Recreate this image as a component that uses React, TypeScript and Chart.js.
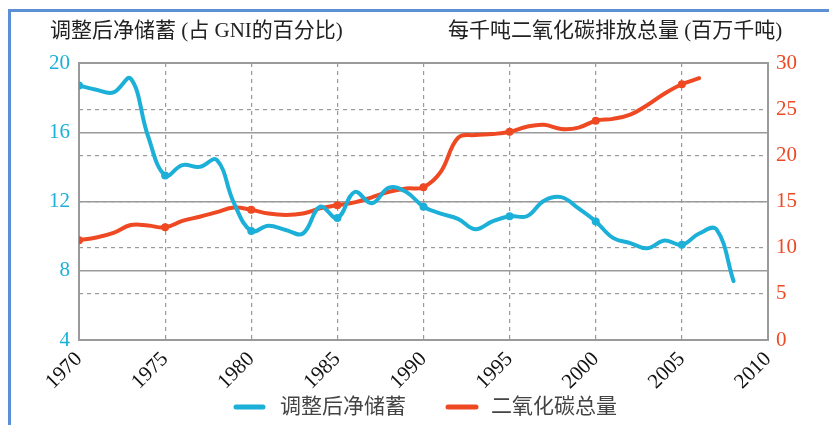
import { useEffect, useRef } from 'react';
import { Chart, registerables } from 'chart.js';

Chart.register(...registerables);

const savingsYears = [1970, 1971, 1972, 1973, 1974, 1975, 1976, 1977, 1978, 1979, 1980, 1981, 1982, 1983, 1984, 1985, 1986, 1987, 1988, 1989, 1990, 1991, 1992, 1993, 1994, 1995, 1996, 1997, 1998, 1999, 2000, 2001, 2002, 2003, 2004, 2005, 2006, 2007, 2008];
const savingsValues = [18.7, 18.45, 18.3, 19.1, 15.8, 13.5, 14.1, 14.0, 14.4, 11.9, 10.3, 10.6, 10.35, 10.15, 11.7, 11.05, 12.55, 11.9, 12.8, 12.55, 11.7, 11.3, 11.0, 10.4, 10.85, 11.15, 11.15, 12.05, 12.25, 11.6, 10.85, 9.9, 9.6, 9.3, 9.75, 9.5, 10.15, 10.4, 7.4];

const co2Years = [1970, 1971, 1972, 1973, 1974, 1975, 1976, 1977, 1978, 1979, 1980, 1981, 1982, 1983, 1984, 1985, 1986, 1987, 1988, 1989, 1990, 1991, 1992, 1993, 1994, 1995, 1996, 1997, 1998, 1999, 2000, 2001, 2002, 2003, 2004, 2005, 2006];
const co2Values = [10.8, 11.1, 11.6, 12.45, 12.4, 12.2, 12.9, 13.35, 13.85, 14.35, 14.1, 13.7, 13.55, 13.7, 14.25, 14.6, 14.9, 15.45, 16.05, 16.4, 16.55, 18.2, 21.9, 22.2, 22.3, 22.55, 23.1, 23.3, 22.85, 23.0, 23.75, 23.95, 24.4, 25.45, 26.7, 27.7, 28.35];

const xTicks = [1970, 1975, 1980, 1985, 1990, 1995, 2000, 2005, 2010];
const leftTicks = [4, 8, 12, 16, 20];
const rightTicks = [0, 5, 10, 15, 20, 25, 30];

const leftTitle = '调整后净储蓄 (占 GNI的百分比)';
const rightTitle = '每千吨二氧化碳排放总量 (百万千吨)';
const seriesNames = ['调整后净储蓄', '二氧化碳总量'];

const BLUE = '#1cb0d8';
const RED = '#ee4922';
const GRID = '#9a9a9a';
const FONT = '"Liberation Serif", "Noto Sans CJK SC", serif';
const CJK = '"Liberation Serif", "Noto Sans CJK SC", sans-serif';

export default function App() {
  const ref = useRef<HTMLCanvasElement | null>(null);
  useEffect(() => {
    if (!ref.current) return;
    const markerRadius = (years: number[]) => years.map((y) => (y % 5 === 0 ? 4 : 0));
    const decor = {
      id: 'decor',
      beforeDatasetsDraw(chart: any) {
        const { ctx, chartArea: a } = chart;
        ctx.save();
        ctx.strokeStyle = GRID;
        ctx.lineWidth = 2;
        ctx.strokeRect(a.left, a.top, a.right - a.left, a.bottom - a.top);
        ctx.restore();
      },
      afterDraw(chart: any) {
        const { ctx } = chart;
        ctx.save();
        // frame
        ctx.strokeStyle = '#5b90d6';
        ctx.lineWidth = 3;
        ctx.beginPath();
        ctx.moveTo(9.5, 440);
        ctx.lineTo(9.5, 10.5);
        ctx.lineTo(840, 10.5);
        ctx.stroke();
        // titles
        ctx.fillStyle = '#222';
        ctx.font = '21px ' + CJK;
        ctx.textBaseline = 'middle';
        ctx.textAlign = 'left';
        ctx.fillText(leftTitle, 50, 31);
        ctx.fillText(rightTitle, 448, 31);
        // legend
        ctx.lineCap = 'round';
        ctx.lineWidth = 5;
        ctx.strokeStyle = BLUE;
        ctx.beginPath();
        ctx.moveTo(236, 407);
        ctx.lineTo(263, 407);
        ctx.stroke();
        ctx.strokeStyle = RED;
        ctx.beginPath();
        ctx.moveTo(448, 407);
        ctx.lineTo(476, 407);
        ctx.stroke();
        ctx.fillStyle = '#444';
        ctx.font = '21px ' + CJK;
        ctx.fillText(seriesNames[0], 280, 407);
        ctx.fillText(seriesNames[1], 491, 407);
        ctx.restore();
      },
    };
    const chart = new Chart(ref.current, {
      type: 'line',
      data: {
        datasets: [
          {
            label: seriesNames[0],
            data: savingsYears.map((x, i) => ({ x, y: savingsValues[i] })),
            borderColor: BLUE,
            backgroundColor: BLUE,
            borderWidth: 4,
            pointRadius: markerRadius(savingsYears),
            pointBorderWidth: 0,
            tension: 0.4,
            yAxisID: 'yL',
            borderCapStyle: 'round',
          },
          {
            label: seriesNames[1],
            data: co2Years.map((x, i) => ({ x, y: co2Values[i] })),
            borderColor: RED,
            backgroundColor: RED,
            borderWidth: 4,
            pointRadius: markerRadius(co2Years),
            pointBorderWidth: 0,
            tension: 0.4,
            yAxisID: 'yR',
            borderCapStyle: 'round',
          },
        ],
      },
      options: {
        responsive: false,
        animation: false,
        layout: { padding: { top: 63, bottom: 0, left: 0, right: 0 } },
        plugins: { legend: { display: false }, tooltip: { enabled: false } },
        scales: {
          x: {
            type: 'linear',
            min: xTicks[0],
            max: xTicks[xTicks.length - 1],
            afterBuildTicks: (s: any) => { s.ticks = xTicks.map((v) => ({ value: v })); },
            afterFit: (s: any) => { s.height = 85; },
            ticks: {
              callback: (v: any) => String(v),
              color: '#111',
              font: { family: FONT, size: 21 },
              maxRotation: 45,
              minRotation: 45,
              padding: 7,
            },
            grid: { color: GRID, lineWidth: 1.2, drawTicks: false },
            border: { display: true, color: GRID, width: 2, dash: [4, 4] },
          },
          yL: {
            position: 'left',
            min: leftTicks[0],
            max: leftTicks[leftTicks.length - 1],
            afterBuildTicks: (s: any) => { s.ticks = leftTicks.map((v) => ({ value: v })); },
            afterFit: (s: any) => { s.width = 79; },
            ticks: { color: BLUE, font: { family: FONT, size: 21 }, padding: 9 },
            grid: { color: GRID, lineWidth: 1.5, drawTicks: false },
            border: { display: true, color: GRID, width: 2 },
          },
          yR: {
            position: 'right',
            min: rightTicks[0],
            max: rightTicks[rightTicks.length - 1],
            afterBuildTicks: (s: any) => { s.ticks = rightTicks.map((v) => ({ value: v })); },
            afterFit: (s: any) => { s.width = 61; },
            ticks: { color: RED, font: { family: FONT, size: 21 }, padding: 8 },
            grid: { color: GRID, lineWidth: 1.2, drawTicks: false },
            border: { display: true, color: GRID, width: 2, dash: [4, 4] },
          },
        },
      },
      plugins: [decor],
    } as any);
    return () => chart.destroy();
  }, []);
  return (
    <div style={{ position: 'fixed', left: 0, top: 0, width: 829, height: 425, background: '#fff' }}>
      <canvas ref={ref} width={829} height={425} />
    </div>
  );
}
